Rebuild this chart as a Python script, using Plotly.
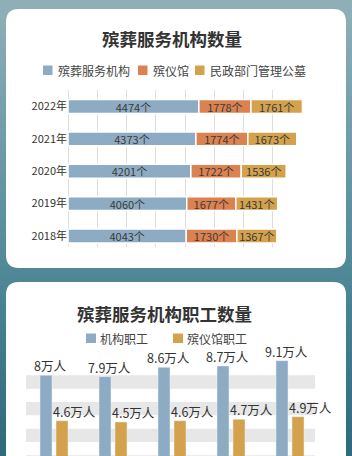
import plotly.graph_objects as go

# ---------------- data ----------------
years = ["2018年", "2019年", "2020年", "2021年", "2022年"]
institutions = [4043, 4060, 4201, 4373, 4474]
funeral_homes = [1730, 1677, 1722, 1774, 1778]
cemeteries = [1367, 1431, 1536, 1673, 1761]

staff_years = ["2018年", "2019年", "2020年", "2021年", "2022年"]
staff_inst = [8, 7.9, 8.6, 8.7, 9.1]
staff_fh = [4.6, 4.5, 4.6, 4.7, 4.9]

title1 = "殡葬服务机构数量"
title2 = "殡葬服务机构职工数量"
legend1 = ["殡葬服务机构", "殡仪馆", "民政部门管理公墓"]
legend2 = ["机构职工", "殡仪馆职工"]

# ---------------- style ----------------
W, H = 352, 456
FONT = "Noto Sans CJK SC"
C_BLUE = "#8eabc4"
C_ORANGE = "#dc8150"
C_GOLD = "#d4a24c"
TXT = "#333333"


def X(px):
    return px / W


def Y(py):
    return 1 - py / H


fig = go.Figure()

# ---- chart 1: stacked horizontal bars (overlay + base) ----
base2 = [a for a in institutions]
base3 = [a + b for a, b in zip(institutions, funeral_homes)]
series1 = [
    (legend1[0], institutions, [0] * len(years), C_BLUE),
    (legend1[1], funeral_homes, base2, C_ORANGE),
    (legend1[2], cemeteries, base3, C_GOLD),
]
for name, vals, base, col in series1:
    fig.add_trace(go.Bar(
        name=name, y=years, x=vals, base=base, orientation="h",
        marker=dict(color=col, line=dict(color="white", width=1.5)),
        width=0.43,
        text=[f"{v}个" for v in vals], textposition="inside",
        insidetextanchor="middle", constraintext="none",
        textfont=dict(family=FONT, size=11, color="#3a3a3a"),
        showlegend=False, xaxis="x", yaxis="y", hoverinfo="skip",
    ))

# ---- chart 2: grouped vertical bars ----
bw = 12 / 59
fig.add_trace(go.Bar(
    name=legend2[0], x=staff_years, y=staff_inst, marker_color=C_BLUE,
    width=bw, offset=-14 / 59, showlegend=False, xaxis="x2", yaxis="y2",
    hoverinfo="skip",
))
fig.add_trace(go.Bar(
    name=legend2[1], x=staff_years, y=staff_fh, marker_color=C_GOLD,
    width=bw, offset=2 / 59, showlegend=False, xaxis="x2", yaxis="y2",
    hoverinfo="skip",
))

annotations = []
for yr, v in zip(staff_years, staff_inst):
    annotations.append(dict(
        x=yr, y=v, xref="x2", yref="y2", text=f"{v:g}万人", showarrow=False,
        xshift=-4, xanchor="center", yanchor="bottom", yshift=-2,
        font=dict(family=FONT, size=12.5, color=TXT)))
for yr, v in zip(staff_years, staff_fh):
    annotations.append(dict(
        x=yr, y=v, xref="x2", yref="y2", text=f"{v:g}万人", showarrow=False,
        xshift=20, xanchor="center", yanchor="bottom", yshift=-2,
        font=dict(family=FONT, size=12.5, color=TXT)))

# titles
annotations.append(dict(x=X(172), y=Y(38), xref="paper", yref="paper",
                        xanchor="center", yanchor="middle",
                        text=f"<b>{title1}</b>", showarrow=False,
                        font=dict(family=FONT, size=17.5, color=TXT)))
annotations.append(dict(x=X(164), y=Y(313), xref="paper", yref="paper",
                        xanchor="center", yanchor="middle",
                        text=f"<b>{title2}</b>", showarrow=False,
                        font=dict(family=FONT, size=17.5, color=TXT)))

shapes = []
# background gradient
stops = [(0.0, (0x90, 0xb0, 0xb9)), (0.6, (0x4f, 0x88, 0x97)), (1.0, (0x2d, 0x6a, 0x7b))]


def grad(t):
    for (t0, c0), (t1, c1) in zip(stops[:-1], stops[1:]):
        if t0 <= t <= t1:
            f = (t - t0) / (t1 - t0)
            return "rgb(%d,%d,%d)" % tuple(round(a + (b - a) * f) for a, b in zip(c0, c1))
    return "rgb(%d,%d,%d)" % stops[-1][1]


N = 48
for i in range(N):
    y0 = H * i / N
    y1 = H * (i + 1) / N + 1
    shapes.append(dict(type="rect", xref="paper", yref="paper", x0=0, x1=1,
                       y0=Y(y1), y1=Y(y0), fillcolor=grad((i + 0.5) / N),
                       line=dict(width=0), layer="below"))


def card(x0, y0, x1, y1, r):
    p = (f"M {X(x0 + r)},{Y(y0)} L {X(x1 - r)},{Y(y0)} "
         f"Q {X(x1)},{Y(y0)} {X(x1)},{Y(y0 + r)} "
         f"L {X(x1)},{Y(y1 - r)} Q {X(x1)},{Y(y1)} {X(x1 - r)},{Y(y1)} "
         f"L {X(x0 + r)},{Y(y1)} Q {X(x0)},{Y(y1)} {X(x0)},{Y(y1 - r)} "
         f"L {X(x0)},{Y(y0 + r)} Q {X(x0)},{Y(y0)} {X(x0 + r)},{Y(y0)} Z")
    return dict(type="path", xref="paper", yref="paper", path=p,
                fillcolor="white", line=dict(width=0), layer="below")


shapes.append(card(6, 9, 346, 268, 13))
shapes.append(card(6, 282, 346, 520, 13))

# stripes in chart 2
for lo in [1, 3, 5, 7]:
    shapes.append(dict(type="rect", xref="paper", yref="y2", x0=X(26), x1=X(315),
                       y0=lo, y1=lo + 1, fillcolor="#e7e7e7",
                       line=dict(width=0), layer="below"))

# legends: squares + text
leg1 = [(43, 56, C_BLUE, legend1[0]), (138, 151, C_ORANGE, legend1[1]),
        (195, 208, C_GOLD, legend1[2])]
for sx, tx, col, txt in leg1:
    shapes.append(dict(type="rect", xref="paper", yref="paper",
                       x0=X(sx), x1=X(sx + 9.5), y0=Y(75), y1=Y(65.5),
                       fillcolor=col, line=dict(width=0)))
    annotations.append(dict(x=X(tx), y=Y(70), xref="paper", yref="paper",
                            text=txt, showarrow=False, xanchor="left",
                            yanchor="middle",
                            font=dict(family=FONT, size=12, color="#444444")))
leg2 = [(86, 98, C_BLUE, legend2[0]), (173, 185, C_GOLD, legend2[1])]
for sx, tx, col, txt in leg2:
    shapes.append(dict(type="rect", xref="paper", yref="paper",
                       x0=X(sx), x1=X(sx + 10), y0=Y(343), y1=Y(333.5),
                       fillcolor=col, line=dict(width=0)))
    annotations.append(dict(x=X(tx), y=Y(338), xref="paper", yref="paper",
                            text=txt, showarrow=False, xanchor="left",
                            yanchor="middle",
                            font=dict(family=FONT, size=12, color="#444444")))

fig.update_layout(
    width=W, height=H, margin=dict(l=0, r=0, t=0, b=0),
    paper_bgcolor="#5a8f9d", plot_bgcolor="rgba(0,0,0,0)",
    barmode="overlay", showlegend=False,
    font=dict(family=FONT, color=TXT),
    xaxis=dict(domain=[X(68), X(302.6)], range=[0, 8020], dtick=1000,
               showgrid=True, gridcolor="#dedede", gridwidth=1,
               zeroline=True, zerolinecolor="#dedede", zerolinewidth=1,
               showticklabels=False, showline=False, fixedrange=True),
    yaxis=dict(domain=[Y(247), Y(90)], range=[-0.34, 4.51], type="category",
               showgrid=False, zeroline=False, ticks="",
               tickfont=dict(family=FONT, size=11, color=TXT), fixedrange=True),
    xaxis2=dict(domain=[X(24.5), X(319.5)], range=[-0.5, 4.5], type="category",
                anchor="y2", showgrid=False, zeroline=False,
                showticklabels=False, ticks="", fixedrange=True),
    yaxis2=dict(domain=[0, Y(350)], range=[1.95, 9.9], anchor="x2",
                showgrid=False, zeroline=False, showticklabels=False,
                fixedrange=True),
    shapes=shapes, annotations=annotations,
)

fig.write_html("out.html")
